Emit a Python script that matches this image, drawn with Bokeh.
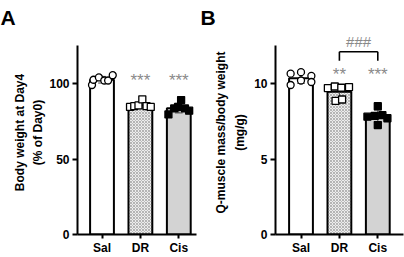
import numpy as np
from bokeh.plotting import figure
from bokeh.models import FixedTicker, Range1d, ColumnDataSource
from bokeh.layouts import row
from bokeh.core.properties import value
from bokeh.embed import file_html
from bokeh.resources import INLINE

categories = ["Sal", "DR", "Cis"]

# Panel A: body weight at Day4 (% of Day0)
bw_sal = [99.0, 102.5, 104.0, 102.0, 102.0, 105.5]
bw_dr = [84.5, 85.0, 85.5, 89.5, 85.0, 84.5]
bw_cis = [79.5, 83.5, 84.5, 89.0, 83.5, 82.0]
bw_ticks = [0, 50, 100]
bw_axis_max = 125
bw_stars = ["", "***", "***"]

# Panel B: Q-muscle mass / body weight (mg/g)
qm_sal = [10.65, 9.9, 10.75, 10.2, 10.5, 10.1]
qm_dr = [9.7, 9.8, 9.72, 9.76, 8.85, 8.94]
qm_cis = [8.5, 7.8, 7.85, 7.7, 7.25, 7.9]
qm_ticks = [0, 5, 10]
qm_axis_max = 12.5
qm_stars = ["", "**", "***"]
qm_bracket_text = "###"

FONT = "Liberation Sans"
fills = ["white", "#ededed", "#d3d3d3"]
hatches = [" ", "diagonal_cross", " "]

TOP, BOTTOM, HEIGHT = 30, 23, 257
ZERO_Y = HEIGHT - BOTTOM  # pixel row of y = 0


def make_panel(groups, ticks, axis_max, ppu_y, ylabel, letter, stars, star_y,
               offsets, width, left, right, label_standoff, markers, xstart):
    frame_h = HEIGHT - TOP - BOTTOM
    y_end = frame_h / ppu_y
    frame_w = width - left - right
    x0, x1 = xstart, xstart + frame_w / 38.4
    p = figure(width=width, height=HEIGHT, output_backend="svg",
               toolbar_location=None, x_range=Range1d(x0, x1),
               y_range=Range1d(0, y_end), min_border_left=left,
               min_border_right=right, min_border_top=TOP,
               min_border_bottom=BOTTOM)
    p.outline_line_color = None
    p.grid.visible = False
    p.background_fill_color = "white"
    p.border_fill_color = "white"

    xs = [1, 2, 3]
    means = [float(np.mean(g)) for g in groups]
    sds = [float(np.std(g, ddof=1)) for g in groups]
    src = ColumnDataSource(dict(x=xs, top=means, fill=fills, hatch=hatches))
    p.vbar(x="x", top="top", width=0.62, source=src, fill_color="fill",
           line_color="black", line_width=2, hatch_pattern="hatch",
           hatch_color="#8f8f8f", hatch_scale=3.0, hatch_weight=0.6)

    # error bars (mean ± SD)
    lo = [m - s for m, s in zip(means, sds)]
    hi = [m + s for m, s in zip(means, sds)]
    p.segment(x0=xs, y0=lo, x1=xs, y1=hi, line_color="#444444", line_width=1)
    p.segment(x0=[x - 0.1 for x in xs], y0=hi, x1=[x + 0.1 for x in xs], y1=hi,
              line_color="#444444", line_width=1)
    p.segment(x0=[x - 0.1 for x in xs], y0=lo, x1=[x + 0.1 for x in xs], y1=lo,
              line_color="#444444", line_width=1)

    # individual points
    for i, g in enumerate(groups):
        px = [xs[i] + o for o in offsets[i]]
        kind, fc = markers[i]
        p.scatter(px, g, marker=kind, size=7, fill_color=fc,
                  line_color="black", line_width=1.3)

    p.text(x=xs, y=[star_y] * 3, text=stars, text_color="#8a8a8a",
           text_font=value(FONT), text_font_size="17px", text_align="center",
           text_baseline="middle")

    for ax in (p.xaxis, p.yaxis):
        ax.axis_line_width = 2
        ax.major_tick_line_width = 2
        ax.major_tick_in = 0
        ax.minor_tick_line_color = None
        ax.major_label_text_font = FONT
        ax.major_label_text_font_style = "bold"
        ax.major_label_text_font_size = "12px"
        ax.major_label_text_color = "black"
        ax.major_label_standoff = 3
    p.xaxis.ticker = FixedTicker(ticks=xs)
    p.xaxis.major_label_overrides = {x: c for x, c in zip(xs, categories)}
    p.xaxis.major_tick_out = 4
    p.xaxis.major_label_standoff = 2
    p.yaxis.ticker = FixedTicker(ticks=ticks)
    p.yaxis.bounds = (0, axis_max)
    p.yaxis.major_tick_out = 5
    p.yaxis.axis_label = ylabel
    p.yaxis.axis_label_text_font = FONT
    p.yaxis.axis_label_text_font_style = "bold"
    p.yaxis.axis_label_text_font_size = "12px"
    p.yaxis.axis_label_text_color = "black"
    p.yaxis.axis_label_text_line_height = 1.35
    p.yaxis.axis_label_standoff = label_standoff

    p.title.text = letter
    p.title.text_font = FONT
    p.title.text_font_style = "bold"
    p.title.text_font_size = "21px"
    p.title.text_color = "black"
    p.title.align = "left"
    p.title.offset = -left
    p.title.vertical_align = "top"
    p.title.standoff = 0
    return p


pA = make_panel([bw_sal, bw_dr, bw_cis], bw_ticks, bw_axis_max,
                (ZERO_Y - 83) / 100, "Body weight at Day4\n(% of Day0)", "A",
                bw_stars, 102,
                [[-0.26, -0.22, -0.08, 0.06, 0.16, 0.28],
                 [-0.27, -0.16, -0.05, 0.05, 0.16, 0.27],
                 [-0.27, -0.12, -0.02, 0.06, 0.16, 0.27]],
                200, 77, 4, 1,
                [("circle", "white"), ("square", "white"), ("square", "black")],
                1 - 24.5 / 38.4)

pB = make_panel([qm_sal, qm_dr, qm_cis], qm_ticks, qm_axis_max,
                (ZERO_Y - 83) / 10, "Q-muscle mass/body weight\n(mg/g)", "B",
                qm_stars, 10.6,
                [[-0.27, -0.27, 0.0, 0.0, 0.27, 0.27],
                 [-0.3, -0.12, 0.05, 0.25, -0.1, 0.07],
                 [0.0, -0.27, -0.08, 0.25, 0.0, 0.12]],
                204, 75, 1, 4,
                [("circle", "white"), ("square", "white"), ("square", "black")],
                1 - 25.5 / 38.4)

# significance bracket DR vs Cis
yb = 12.1
pB.segment(x0=[2, 2, 3], y0=[yb, yb, yb], x1=[3, 2, 3], y1=[yb, 11.5, 11.5],
           line_color="black", line_width=1.6)
pB.text(x=[2.5], y=[12.8], text=[qm_bracket_text], text_font=value(FONT),
        text_font_size="15px", text_color="#8a8a8a", text_align="center",
        text_baseline="middle")

layout = row(pA, pB)
open("out.html", "w").write(file_html(layout, INLINE))
